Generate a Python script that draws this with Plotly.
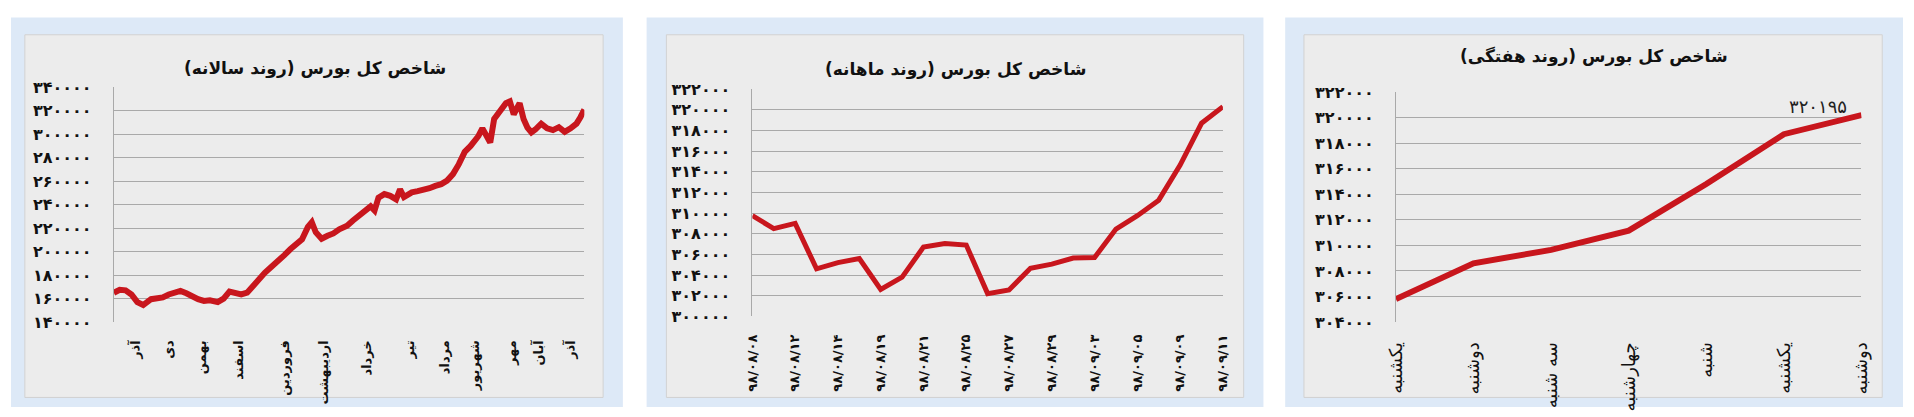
import plotly.graph_objects as go

# ---------------- data ----------------
FA = "۰۱۲۳۴۵۶۷۸۹"


def fa(n):
    return "".join(FA[int(c)] for c in str(n))


# panel 1 : yearly trend (trading-day index, index value)
year_days = [0, 3, 6, 9, 12, 15, 19, 22, 25, 28, 31, 34, 37, 40, 43, 46, 49, 53, 56, 59,
             62, 65, 68, 71, 74, 77, 80, 84, 87, 90, 93, 96, 99, 101, 103, 106, 109, 112, 115, 119,
             122, 125, 128, 131, 133, 135, 138, 141, 144, 146, 148, 152, 155, 158, 161, 164, 167, 170, 173, 176,
             179, 182, 186, 188, 190, 192, 194, 197, 200, 202, 204, 207, 209, 211, 213, 215, 218, 221, 224, 227,
             230, 233, 236, 238, 240]
year_values = [165000, 167500, 167000, 163500, 157000, 154500, 159500, 160000, 161000, 163500,
               165500, 166500, 164500, 161500, 159500, 158000, 158500, 157000, 160000, 166000,
               165000, 163500, 165000, 170500, 177500, 182000, 186500, 192000, 197000, 202000,
               206000, 210500, 221000, 225000, 216500, 211000, 213500, 215500, 219000, 222000,
               226500, 230500, 235000, 238500, 235000, 246000, 249000, 247500, 244500, 253000,
               246500, 250500, 251500, 252500, 254000, 256000, 257500, 260500, 266000, 274500,
               285000, 290000, 298500, 305000, 298500, 293000, 313000, 320000, 326500, 328000,
               317000, 326500, 313000, 305500, 301500, 304000, 309000, 305000, 303500, 306000,
               302000, 305000, 309000, 314500, 321000]
month_days = [11, 28, 45, 64, 87, 107, 129, 151, 169, 184, 203, 217, 233]
month_names = ["آذر", "دی", "بهمن", "اسفند", "فروردین", "اردیبهشت", "خرداد",
               "تیر", "مرداد", "شهریور", "مهر", "آبان", "آذر"]
y1_ticks = list(range(140000, 340001, 20000))
y1_labels = [fa(v) for v in y1_ticks]

# panel 2 : monthly trend
month_values = [309750, 308500, 309000, 304600, 305200, 305600, 302600, 303800, 306700,
                307050, 306900, 302200, 302550, 304650, 305050, 305650, 305700, 308450,
                309750, 311250, 314650, 318700, 320300]
date_ticks = [0, 2, 4, 6, 8, 10, 12, 14, 16, 18, 20, 22]
date_labels = ["۹۸/۰۸/۰۸", "۹۸/۰۸/۱۲", "۹۸/۰۸/۱۴", "۹۸/۰۸/۱۹", "۹۸/۰۸/۲۱", "۹۸/۰۸/۲۵",
               "۹۸/۰۸/۲۷", "۹۸/۰۸/۲۹", "۹۸/۰۹/۰۳", "۹۸/۰۹/۰۵", "۹۸/۰۹/۰۹", "۹۸/۰۹/۱۱"]
y2_ticks = list(range(300000, 322001, 2000))
y2_labels = [fa(v) for v in y2_ticks]

# panel 3 : weekly trend
week_days = ["یکشنبه", "دوشنبه", "سه شنبه", "چهارشنبه", "شنبه", "یکشنبه", "دوشنبه"]
week_values = [305800, 308600, 309650, 311150, 314800, 318700, 320195]
y3_ticks = list(range(304000, 322001, 2000))
y3_labels = [fa(v) for v in y3_ticks]

titles = ["شاخص کل بورس (روند سالانه)", "شاخص کل بورس (روند ماهانه)", "شاخص کل بورس (روند هفتگی)"]

# ---------------- layout helpers ----------------
W, H = 1914, 417


def px(x):
    return x / W


def py(y):
    return 1 - y / H


RLM = "\u200f"
RED = "#c8161d"
GRID = "#a9a9a9"
BLUE = "#dde9f7"
PANEL = "#ececec"
FONT = "DejaVu Sans"

fig = go.Figure()
fig.add_trace(go.Scatter(x=year_days, y=year_values, mode="lines",
                         line=dict(color=RED, width=6), xaxis="x", yaxis="y",
                         hoverinfo="skip"))
fig.add_trace(go.Scatter(x=list(range(len(month_values))), y=month_values, mode="lines",
                         line=dict(color=RED, width=5), xaxis="x2", yaxis="y2",
                         hoverinfo="skip"))
fig.add_trace(go.Scatter(x=list(range(len(week_values))), y=week_values, mode="lines",
                         line=dict(color=RED, width=6), xaxis="x3", yaxis="y3",
                         hoverinfo="skip"))

shapes = []
for (x0, y0, x1, y1) in [(0, 9, 619, 417), (643, 9, 1267, 417), (1289, 9, 1914, 417)]:
    shapes.append(dict(type="rect", xref="paper", yref="paper", x0=px(x0), x1=px(x1),
                       y0=py(y1), y1=py(y0), fillcolor=BLUE, line=dict(width=0), layer="below"))
for (x0, y0, x1, y1) in [(14, 27, 599, 407), (663, 27, 1247, 407), (1308, 27, 1893, 407)]:
    shapes.append(dict(type="rect", xref="paper", yref="paper", x0=px(x0), x1=px(x1),
                       y0=py(y1), y1=py(y0), fillcolor=PANEL, line=dict(width=1, color="#d2d2d2"),
                       layer="below"))


def xax(dom, rng, tv, tt, size, weight):
    return dict(domain=[px(dom[0]), px(dom[1])], range=rng, tickvals=tv, ticktext=tt,
                tickangle=-90, showgrid=False, zeroline=False, showline=False,
                ticks="outside", ticklen=12, tickcolor="rgba(0,0,0,0)",
                tickfont=dict(family=FONT, size=size, color="#111", weight=weight))


def yax(dom, rng, tv, tt, anchor):
    return dict(domain=[py(dom[1]), py(dom[0])], range=rng, tickvals=tv, ticktext=tt,
                showgrid=True, gridcolor=GRID, gridwidth=1, zeroline=False,
                showline=True, linecolor=GRID, linewidth=1,
                ticks="outside", ticklen=18, tickcolor="rgba(0,0,0,0)", anchor=anchor,
                tickfont=dict(family=FONT, size=16, color="#111", weight="bold"))


annotations = []
for txt, cx, cy in zip(titles, [308, 955, 1601], [62, 63, 50]):
    annotations.append(dict(text=RLM + txt + RLM, x=px(cx), y=py(cy), xref="paper", yref="paper",
                            showarrow=False, xanchor="center", yanchor="middle",
                            font=dict(family=FONT, size=17, color="#111", weight="bold")))
annotations.append(dict(text=fa(week_values[-1]), x=px(1828), y=py(102), xref="paper", yref="paper",
                        showarrow=False, xanchor="center", yanchor="middle",
                        font=dict(family=FONT, size=18, color="#222")))

fig.update_layout(
    width=W, height=H, margin=dict(l=0, r=0, t=0, b=0),
    paper_bgcolor="white", plot_bgcolor="rgba(0,0,0,0)", showlegend=False,
    shapes=shapes, annotations=annotations,
    xaxis=xax((104, 580), [0, 240], month_days, month_names, 13, "bold"),
    yaxis=yax((82, 328), [140000, 340000], y1_ticks, y1_labels, "x"),
    xaxis2=xax((750, 1226), [0, 22], date_ticks, date_labels, 13, "bold"),
    yaxis2=yax((84, 322), [300000, 322000], y2_ticks, y2_labels, "x2"),
    xaxis3=xax((1401, 1872), [0, 6], list(range(7)), week_days, 18, "normal"),
    yaxis3=yax((87, 328), [304000, 322000], y3_ticks, y3_labels, "x3"),
)
fig.update_layout(xaxis=dict(anchor="y"), xaxis2=dict(anchor="y2"), xaxis3=dict(anchor="y3"))

fig.write_html("out.html", config={"displayModeBar": False},
               post_script="document.body.style.margin='0';document.body.style.overflow='hidden';")
